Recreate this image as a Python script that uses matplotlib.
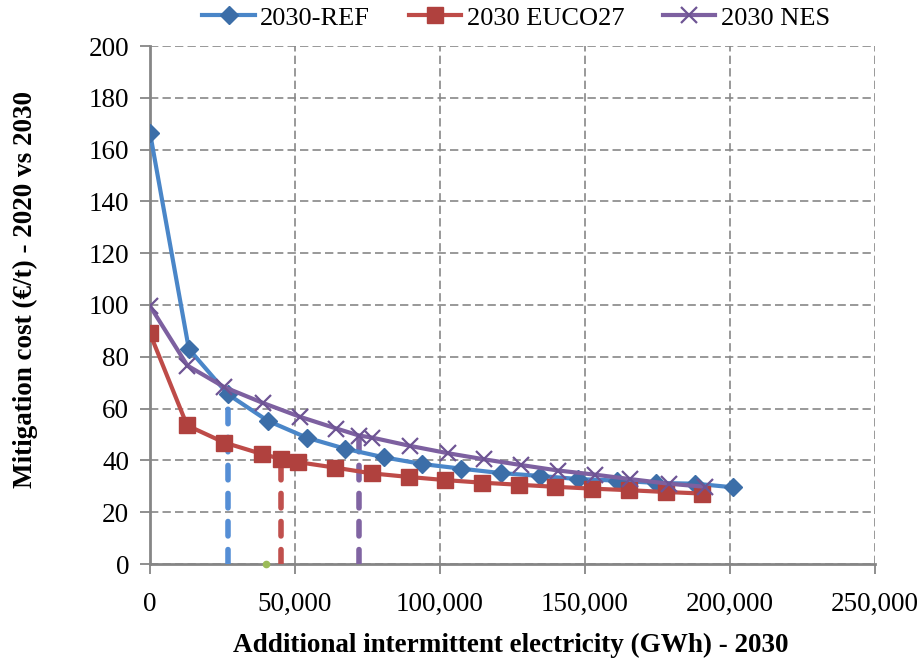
import numpy as np
import matplotlib
matplotlib.use('Agg')
import matplotlib.pyplot as plt
from matplotlib.ticker import FuncFormatter

# datos
ref_x = [0, 13400, 26900, 40600, 54000, 67300, 80600, 93900, 107400, 121000,
         134400, 147700, 161200, 174500, 188100, 201100]
ref_y = [166.5, 83, 65.5, 55.3, 48.8, 44.5, 41.2, 38.6, 36.8, 35.1,
         34.0, 32.8, 32.2, 31.3, 31.0, 29.6]

euco_x = [0, 12800, 25600, 38500, 45200, 51200, 63900, 76400, 89300, 101800,
          114400, 127100, 139800, 152500, 165100, 177800, 190500]
euco_y = [89, 53.5, 46.9, 42.5, 40.6, 39.3, 37.2, 35.0, 33.6, 32.4,
          31.4, 30.6, 29.8, 29.1, 28.5, 27.8, 27.2]

nes_x = [0, 12900, 25600, 38900, 51800, 64300, 72100, 76600, 89700, 102600,
         115300, 128000, 140700, 153400, 165500, 178800, 191500]
nes_y = [99.6, 76.6, 68.3, 62.2, 56.8, 52.3, 49.6, 48.8, 45.6, 42.8,
         40.4, 38.2, 36.1, 34.5, 32.8, 31.0, 29.8]

labels = ['2030-REF', '2030 EUCO27', '2030 NES']

# umbrales (lineas verticales discontinuas)
thr_x = [26900, 45200, 72100]
thr_y = [65.5, 41.5, 49.6]
thr_colors = ['#558ED5', '#C0504D', '#8064A2']

green_x = [40000]
green_y = [0]

plt.rcParams['font.family'] = ['Liberation Serif', 'DejaVu Serif']

fig = plt.figure(figsize=(9.19, 6.62), dpi=100)
ax = fig.add_axes([150 / 919, 1 - 564 / 662, 725 / 919, 518 / 662])

for xv, yv, c in zip(thr_x, thr_y, thr_colors):
    ax.plot([xv, xv], [0, yv], color=c, lw=4, dashes=(2.6, 2.45),
            dash_capstyle='round', zorder=3)
ax.plot(green_x, green_y, 'o', color='#9BBB59', ms=4.5, zorder=3, clip_on=False)

ax.plot(ref_x, ref_y, color='#4A86C8', lw=3, marker='D', ms=9,
        mfc='#3C6EA8', mec='#3C6EA8', label=labels[0], zorder=4)
ax.plot(euco_x, euco_y, color='#BE4B48', lw=3, marker='s', ms=11,
        mfc='#B0413E', mec='#B0413E', label=labels[1], zorder=4)
ax.plot(nes_x, nes_y, color='#7D60A0', lw=3, marker='x', ms=11, mew=1.6,
        mec='#6E5494', label=labels[2], zorder=5)

ax.set_xlim(0, 250000)
ax.set_ylim(0, 200)
ax.set_xticks(np.arange(0, 250001, 50000))
ax.set_yticks(np.arange(0, 201, 20))
ax.xaxis.set_major_formatter(FuncFormatter(lambda v, p: f'{int(v):,}'))

ax.grid(True, color='#888888', ls=(0, (5, 2.5)), lw=1.2)
ax.set_axisbelow(True)
for s in ['top', 'right']:
    ax.spines[s].set_visible(False)
for s in ['left', 'bottom']:
    ax.spines[s].set_color('#868686')
    ax.spines[s].set_linewidth(2)
ax.tick_params(axis='both', direction='out', length=7, width=1.3,
               color='#868686', labelsize=19.5, pad=8)
ax.tick_params(axis='x', pad=13)

ax.set_xlabel('Additional intermittent electricity (GWh) - 2030',
              fontsize=19.5, fontweight='bold')
ax.xaxis.set_label_coords(511 / 919, 1 - 645 / 662, transform=fig.transFigure)
ax.set_ylabel('Mitigation cost (€/t) - 2020 vs 2030',
              fontsize=19.5, fontweight='bold')
ax.yaxis.set_label_coords(25 / 919, 1 - 290 / 662, transform=fig.transFigure)
ax.xaxis.label.set_va('center')
ax.yaxis.label.set_va('center')

fig.legend(loc='center', bbox_to_anchor=(516 / 919, 1 - 18 / 662), ncol=3,
           frameon=False, fontsize=19, handlelength=2.0, handletextpad=0.2,
           columnspacing=1.45)

fig.savefig('out.png', dpi=100)
